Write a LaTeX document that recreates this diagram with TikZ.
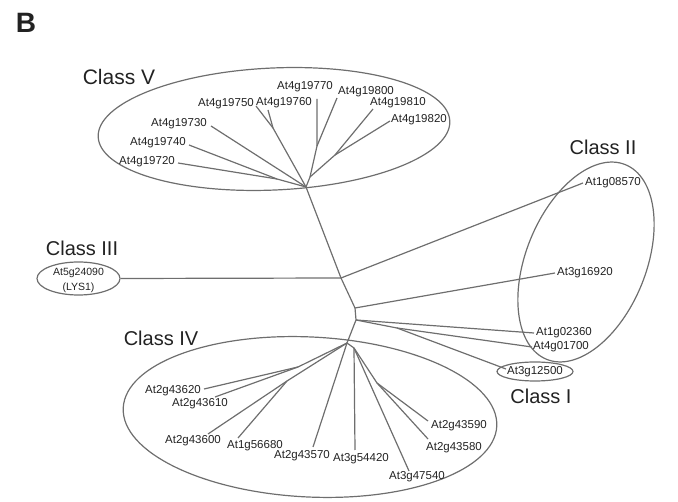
\documentclass[tikz,border=0pt]{standalone}
\usepackage{fontspec}
\setmainfont{Liberation Sans}
\usetikzlibrary{shapes.geometric}
\definecolor{linegray}{HTML}{6E6E6E}
\definecolor{textgray}{HTML}{222222}
\begin{document}
\begin{tikzpicture}[x=1pt,y=-1pt,
  br/.style={draw=linegray, line width=1.2pt, line join=round},
  lab/.style={font=\fontsize{11.5}{13}\selectfont, text=textgray, inner sep=0pt},
  cls/.style={font=\fontsize{20}{24}\selectfont, text=textgray, inner sep=0pt},
  grp/.style={draw=linegray, line width=1.2pt, ellipse, inner sep=0pt},
]
\useasboundingbox (0,0) rectangle (678,502);

% panel letter
\node[font=\fontsize{28}{32}\selectfont\bfseries, text=textgray, inner sep=0pt] (B) at (26,23) {B};

% group ellipses
\node[grp, minimum width=352pt, minimum height=122pt, rotate=2.6] (g5) at (274,129) {};
\node[grp, minimum width=210pt, minimum height=120pt, rotate=68] (g2) at (586,262) {};
\node[grp, minimum width=374pt, minimum height=160pt, rotate=-2.8] (g4) at (310,417) {};
\node[grp, minimum width=83pt, minimum height=33pt] (g3) at (78.5,278.5) {};
\node[grp, minimum width=76pt, minimum height=19pt] (g1) at (535,371.5) {};

% class titles
\node[cls, font=\fontsize{21}{24}\selectfont] (cV) at (119,77) {Class V};
\node[cls] (cII) at (603,147) {Class II};
\node[cls] (cIII) at (82,248) {Class III};
\node[cls] (cIV) at (161,338) {Class IV};
\node[cls] (cI) at (541,396) {Class I};

% leaf labels
\node[lab] (l19730) at (179,124) {At4g19730};
\node[lab] (l19740) at (158,143) {At4g19740};
\node[lab] (l19720) at (147,162) {At4g19720};
\node[lab] (l19750) at (226,104) {At4g19750};
\node[lab] (l19760) at (284,103) {At4g19760};
\node[lab] (l19770) at (305,87) {At4g19770};
\node[lab] (l19800) at (366,92) {At4g19800};
\node[lab] (l19810) at (398,103) {At4g19810};
\node[lab] (l19820) at (419,120) {At4g19820};

\node[lab] (l08570) at (613,183) {At1g08570};
\node[lab] (l16920) at (585,273) {At3g16920};
\node[lab] (l02360) at (564,333) {At1g02360};
\node[lab] (l01700) at (561,347) {At4g01700};
\node[lab] (l12500) at (535,372) {At3g12500};
\node[lab, font=\fontsize{10.5}{14.5}\selectfont, align=center] (l24090) at (78.5,280.5) {At5g24090\\(LYS1)};

\node[lab] (l43620) at (173,391) {At2g43620};
\node[lab] (l43610) at (200,404) {At2g43610};
\node[lab] (l43600) at (193,441) {At2g43600};
\node[lab] (l56680) at (255,446) {At1g56680};
\node[lab] (l43570) at (302,456) {At2g43570};
\node[lab] (l54420) at (361,459) {At3g54420};
\node[lab] (l47540) at (417,477) {At3g47540};
\node[lab] (l43590) at (459,426) {At2g43590};
\node[lab] (l43580) at (454,448) {At2g43580};

% internal tree points
\coordinate (H5) at (306,187);
\coordinate (n1) at (310,177);
\coordinate (n2) at (317,146);
\coordinate (n3) at (335,155);
\coordinate (n5) at (273,128);
\coordinate (n6) at (277,179);
\coordinate (B1) at (341,278);
\coordinate (B2) at (355,308);
\coordinate (B3) at (356,320);
\coordinate (B4) at (397,328);
\coordinate (H4) at (347,343);
\coordinate (p1) at (298,367);
\coordinate (q1) at (287,381);
\coordinate (m1) at (354,348);
\coordinate (m2) at (377,383);

% leaf ends
\coordinate (c19730) at (211,126);
\coordinate (c19740) at (189,145);
\coordinate (c19720) at (178,163);
\coordinate (c19750) at (256,106);
\coordinate (c19760) at (268,110);
\coordinate (c19770) at (317,99);
\coordinate (c19800) at (337,98);
\coordinate (c19810) at (373,109);
\coordinate (c19820) at (390,121);
\coordinate (c08570) at (583,183);
\coordinate (c16920) at (555,273);
\coordinate (c02360) at (534,333);
\coordinate (c01700) at (532,347);
\coordinate (c12500) at (506,369);
\coordinate (c43620) at (204,389);
\coordinate (c43610) at (215,397);
\coordinate (c43600) at (208,434);
\coordinate (c56680) at (238,438);
\coordinate (c43570) at (313,447);
\coordinate (c54420) at (355,450);
\coordinate (c47540) at (409,471);
\coordinate (c43590) at (428,421);
\coordinate (c43580) at (428,439);

% Class V branches
\draw[br] (H5) -- (c19730);
\draw[br] (H5) -- (n6) -- (c19740);
\draw[br] (n6) -- (c19720);
\draw[br] (H5) -- (n5) -- (c19750);
\draw[br] (n5) -- (c19760);
\draw[br] (H5) -- (n1) -- (n2) -- (c19770);
\draw[br] (n2) -- (c19800);
\draw[br] (n1) -- (n3) -- (c19810);
\draw[br] (n3) -- (c19820);

% backbone
\draw[br] (H5) -- (B1) -- (B2) -- (B3) -- (H4);
\draw[br] (B1) -- (g3.east);
\draw[br] (B1) -- (c08570);
\draw[br] (B2) -- (c16920);
\draw[br] (B3) -- (c02360);
\draw[br] (B3) -- (B4) -- (c01700);
\draw[br] (B4) -- (c12500);

% Class IV branches
\draw[br] (H4) -- (p1) -- (c43620);
\draw[br] (p1) -- (c43610);
\draw[br] (H4) -- (q1) -- (c43600);
\draw[br] (q1) -- (c56680);
\draw[br] (H4) -- (c43570);
\draw[br] (H4) -- (m1) -- (c54420);
\draw[br] (m1) -- (c47540);
\draw[br] (m1) -- (m2) -- (c43590);
\draw[br] (m2) -- (c43580);
\end{tikzpicture}
\end{document}
